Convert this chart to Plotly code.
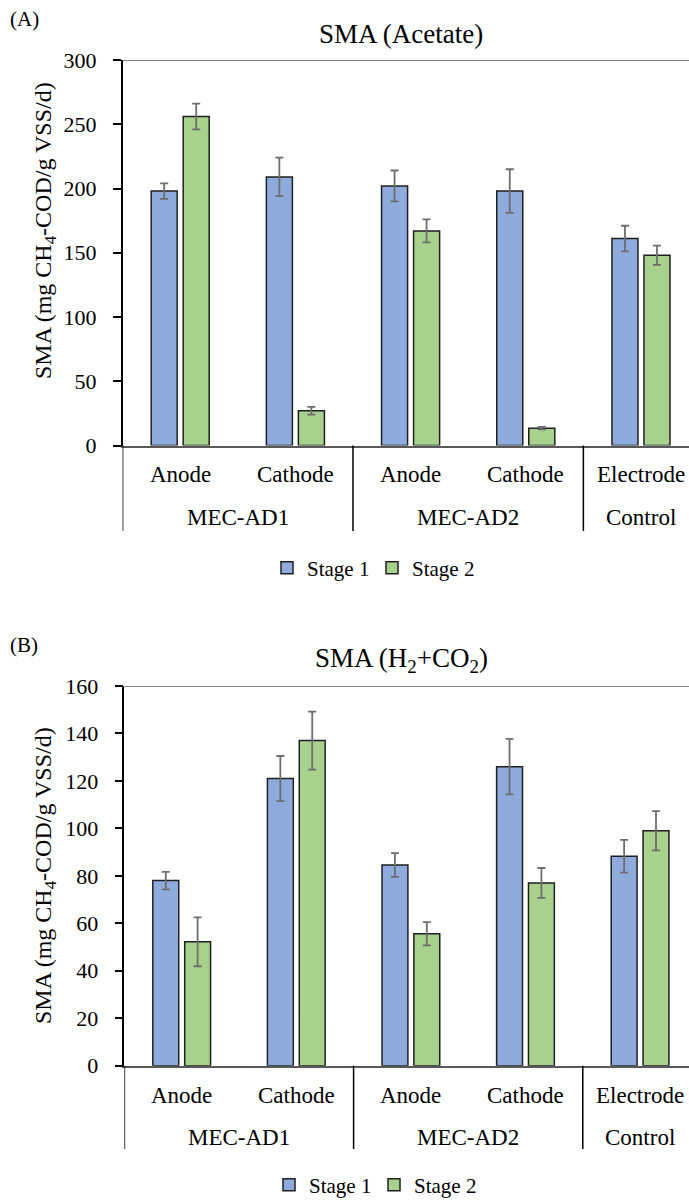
import plotly.graph_objects as go

# Figure size in pixels
W, H = 689, 1200

# Categories
subcats = ["Anode", "Cathode", "Anode", "Cathode", "Electrode"]
groups = ["MEC-AD1", "MEC-AD2", "Control"]
group_pos = [0.5, 2.5, 4.0]
sep_pos = [-0.5, 1.5, 3.5]
stages = ["Stage 1", "Stage 2"]

# SMA with acetate (mg CH4-COD/g VSS/d)
acetate_s1 = [198, 209, 202, 198, 161]
acetate_s1_err = [6, 15, 12, 17, 10]
acetate_s2 = [256, 27, 167, 13.5, 148]
acetate_s2_err = [10, 3, 9, 1, 7.5]

# SMA with H2+CO2 (mg CH4-COD/g VSS/d)
h2_s1 = [78, 121, 84.6, 126, 88.3]
h2_s1_err = [3.7, 9.5, 5, 11.7, 6.9]
h2_s2 = [52.2, 137, 55.6, 77, 99]
h2_s2_err = [10.3, 12.2, 4.9, 6.3, 8.3]

BLUE = "#8FAADC"
GREEN = "#A9D18E"
FONT = "Liberation Serif"


def fx(px):
    return px / W


def fy(px):
    return 1 - px / H


fig = go.Figure()

xs = list(range(len(subcats)))
BAR_W = 0.226
OFFS = [-0.252, 0.026]

panels = [
    dict(s=[acetate_s1, acetate_s2], e=[acetate_s1_err, acetate_s2_err],
         xa="x", ya="y", legend="legend"),
    dict(s=[h2_s1, h2_s2], e=[h2_s1_err, h2_s2_err],
         xa="x2", ya="y2", legend="legend2"),
]

for p in panels:
    for k in range(2):
        fig.add_trace(go.Bar(
            x=xs, y=p["s"][k], name=stages[k],
            width=BAR_W, offset=OFFS[k],
            marker=dict(color=[BLUE, GREEN][k],
                        line=dict(color="#1f1f1f", width=1.5)),
            error_y=dict(type="data", array=p["e"][k], visible=True,
                         color="#6e6e6e", thickness=1.8, width=4),
            xaxis=p["xa"], yaxis=p["ya"], legend=p["legend"],
        ))

# Panel geometry (pixels)
A = dict(top=60, bottom=445.5, left=122.6, xmax=4.417, ymax=300, dtick=50)
B = dict(top=686, bottom=1065.7, left=124.4, xmax=4.427, ymax=160, dtick=20)

tickfont = dict(family=FONT, size=22, color="black")


def xaxis_cfg(g, anchor):
    return dict(domain=[fx(g["left"]), 1.0], range=[-0.5, g["xmax"]],
                anchor=anchor, showticklabels=False, ticks="",
                showline=True, linecolor="#595959", linewidth=1.5,
                showgrid=False, zeroline=False)


def yaxis_cfg(g, anchor):
    return dict(domain=[fy(g["bottom"]), fy(g["top"])], range=[0, g["ymax"]],
                anchor=anchor, dtick=g["dtick"], ticks="outside", ticklen=8,
                tickwidth=1.5, tickcolor="black", showline=True,
                linecolor="black", linewidth=1.5, showgrid=False,
                zeroline=False, tickfont=tickfont, ticklabelstandoff=12)


def yminor_cfg(g, anchor, overlay):
    return dict(domain=[fy(g["bottom"]), fy(g["top"])], range=[0, g["ymax"]],
                anchor=anchor, overlaying=overlay, dtick=g["dtick"] / 2,
                ticks="inside", ticklen=5, tickwidth=1.5, tickcolor="black",
                showticklabels=False, showline=False, showgrid=False,
                zeroline=False)


legend_font = dict(family=FONT, size=21, color="black")

fig.update_layout(
    width=W, height=H,
    margin=dict(l=0, r=0, t=0, b=0, autoexpand=False),
    paper_bgcolor="white", plot_bgcolor="white",
    barmode="overlay",
    xaxis=xaxis_cfg(A, "y"),
    yaxis=yaxis_cfg(A, "x"),
    xaxis2=xaxis_cfg(B, "y2"),
    yaxis2=yaxis_cfg(B, "x2"),
    yaxis3=yminor_cfg(A, "x", "y"),
    yaxis4=yminor_cfg(B, "x2", "y2"),
    legend=dict(orientation="h", x=fx(372), y=fy(568), xanchor="center",
                yanchor="middle", font=legend_font, itemwidth=30,
                entrywidth=60, entrywidthmode="pixels",
                bgcolor="rgba(0,0,0,0)"),
    legend2=dict(orientation="h", x=fx(374), y=fy(1185), xanchor="center",
                 yanchor="middle", font=legend_font, itemwidth=30,
                 entrywidth=60, entrywidthmode="pixels",
                 bgcolor="rgba(0,0,0,0)"),
    showlegend=True,
)

shapes = []
annotations = []

for g, xr, yr, title, label, ytitle_y, sub_y, grp_y, sep_bottom, lab_y in [
    (A, "x", "y", "SMA (Acetate)", "(A)", 231, 474, 517, 531, 19),
    (B, "x2", "y2", "SMA (H<sub>2</sub>+CO<sub>2</sub>)", "(B)", 876, 1095, 1137, 1149, 645),
]:
    # top border of the plot area
    shapes.append(dict(type="line", xref=f"{xr} domain", yref=yr,
                       x0=0, x1=1, y0=g["ymax"], y1=g["ymax"],
                       line=dict(color="#595959", width=1.5)))
    # group separators below the category axis
    for s in sep_pos:
        shapes.append(dict(type="line", xref=xr, yref="paper",
                           x0=s, x1=s, y0=fy(g["bottom"]), y1=fy(sep_bottom),
                           line=dict(color="black", width=1.5)))
    for i, name in enumerate(subcats):
        annotations.append(dict(x=i, y=fy(sub_y), xref=xr, yref="paper",
                                text=name, showarrow=False, xanchor="center",
                                yanchor="middle",
                                font=dict(family=FONT, size=23, color="black")))
    for gp, name in zip(group_pos, groups):
        annotations.append(dict(x=gp, y=fy(grp_y), xref=xr, yref="paper",
                                text=name, showarrow=False, xanchor="center",
                                yanchor="middle",
                                font=dict(family=FONT, size=23, color="black")))
    annotations.append(dict(x=fx(401), y=fy(g["top"] - 26), xref="paper",
                            yref="paper", text=title, showarrow=False,
                            xanchor="center", yanchor="middle",
                            font=dict(family=FONT, size=27, color="black")))
    annotations.append(dict(x=fx(24), y=fy(lab_y), xref="paper", yref="paper",
                            text=label, showarrow=False, xanchor="center",
                            yanchor="middle",
                            font=dict(family=FONT, size=21, color="black")))
    annotations.append(dict(x=fx(45), y=fy(ytitle_y), xref="paper",
                            yref="paper",
                            text="SMA (mg CH<sub>4</sub>-COD/g VSS/d)",
                            textangle=-90, showarrow=False,
                            xanchor="center", yanchor="middle",
                            font=dict(family=FONT, size=24, color="black")))

fig.update_layout(shapes=shapes, annotations=annotations)

fig.write_html("out.html")
